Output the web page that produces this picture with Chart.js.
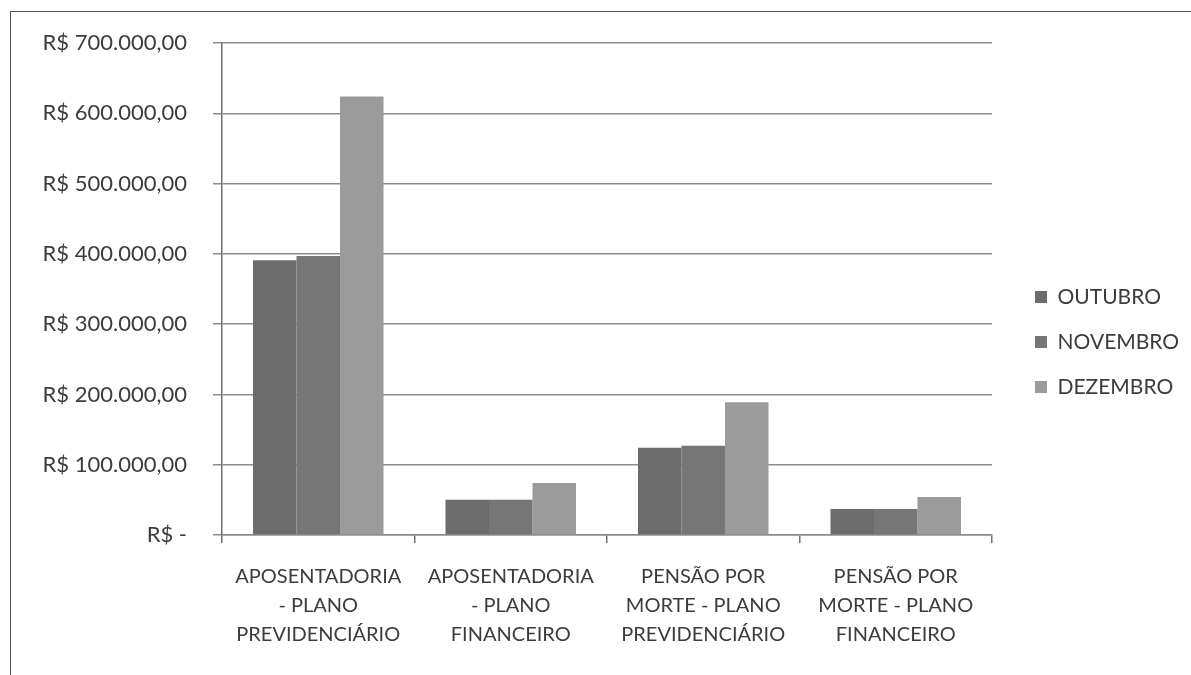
<!DOCTYPE html>
<html>
<head>
<meta charset="utf-8">
<script src="https://cdn.jsdelivr.net/npm/chart.js@4/dist/chart.umd.min.js"></script>
<style>
    html, body { margin: 0; padding: 0; background: #fff; }
    #wrap { position: relative; width: 1191px; height: 675px; }
    #frame { position: absolute; left: 10px; top: 11px; right: -2px; bottom: -2px;
             border-left: 1.5px solid #555; border-top: 1.5px solid #555; pointer-events: none; }
    canvas { position: absolute; left: 0; top: 0; }
</style>
</head>
<body>
<div id="wrap">
    <canvas id="chart" width="1191" height="675"></canvas>
    <div id="frame"></div>
</div>
<script>
// ---- Data ----
const categories = [
    ['APOSENTADORIA', '- PLANO', 'PREVIDENCIÁRIO'],
    ['APOSENTADORIA', '- PLANO', 'FINANCEIRO'],
    ['PENSÃO POR', 'MORTE - PLANO', 'PREVIDENCIÁRIO'],
    ['PENSÃO POR', 'MORTE - PLANO', 'FINANCEIRO']
];
const seriesNames = ['OUTUBRO', 'NOVEMBRO', 'DEZEMBRO'];
const outubro = [391000, 50000, 124000, 37000];
const novembro = [397000, 50000, 127000, 37000];
const dezembro = [624000, 74000, 189000, 54000];
const yTickLabels = ['R$ -', 'R$ 100.000,00', 'R$ 200.000,00', 'R$ 300.000,00',
    'R$ 400.000,00', 'R$ 500.000,00', 'R$ 600.000,00', 'R$ 700.000,00'];

const textColor = '#3c3c3c';
const gridColor = '#8c8c8c';
const fontFamily = 'Lato, "Liberation Sans", sans-serif';

// legend: fixed column width, and nudge it to where Excel put it
const legendPlacePlugin = {
    id: 'legendPlace',
    afterInit: function (chart) {
        const lg = chart.legend;
        if (!lg) {
            return;
        }
        const origFit = lg.fit;
        lg.fit = function () {
            origFit.call(this);
            this.width = 199;
        };
        const origDraw = lg.draw;
        lg.draw = function () {
            const c = this.ctx;
            c.save();
            c.translate(19, -17);
            origDraw.call(this);
            c.restore();
        };
    }
};

const ctx = document.getElementById('chart').getContext('2d');
new Chart(ctx, {
    type: 'bar',
    data: {
        labels: categories,
        datasets: [
            { label: seriesNames[0], data: outubro, backgroundColor: '#6c6c6c' },
            { label: seriesNames[1], data: novembro, backgroundColor: '#767676' },
            { label: seriesNames[2], data: dezembro, backgroundColor: '#9b9b9b' }
        ]
    },
    plugins: [legendPlacePlugin],
    options: {
        responsive: false,
        animation: false,
        layout: { padding: { top: 43, left: 0, right: 0, bottom: 0 } },
        datasets: {
            bar: { barPercentage: 1.0, categoryPercentage: 0.678 }
        },
        plugins: {
            tooltip: { enabled: false },
            legend: {
                position: 'right',
                labels: {
                    boxWidth: 12,
                    boxHeight: 12,
                    padding: 24,
                    color: textColor,
                    font: { family: fontFamily, size: 21 }
                }
            }
        },
        scales: {
            x: {
                afterFit: function (scale) { scale.height = 140; },
                border: { display: true, color: gridColor, width: 1.5 },
                grid: { offset: true, drawOnChartArea: false, drawTicks: true, tickLength: 8, color: '#707070', lineWidth: 1.5 },
                ticks: {
                    color: textColor,
                    padding: 19,
                    maxRotation: 0,
                    autoSkip: false,
                    font: { family: fontFamily, size: 20, lineHeight: 1.45 }
                }
            },
            y: {
                min: 0,
                max: 700000,
                afterFit: function (scale) { scale.width = 222; },
                border: { display: true, color: '#707070', width: 1.5 },
                grid: { drawTicks: true, tickLength: 9, color: gridColor, lineWidth: 1.5 },
                ticks: {
                    stepSize: 100000,
                    padding: 26,
                    color: textColor,
                    font: { family: fontFamily, size: 22 },
                    callback: function (value, index) {
                        return yTickLabels[index];
                    }
                }
            }
        }
    }
});
</script>
</body>
</html>
